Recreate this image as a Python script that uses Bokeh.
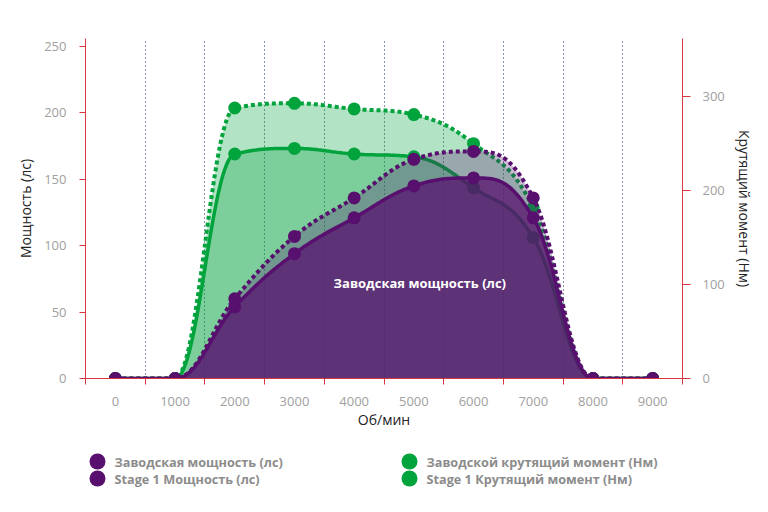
from bokeh.plotting import figure
from bokeh.models import Range1d, LinearAxis, FixedTicker, Label
from bokeh.core.properties import value
from bokeh.layouts import column
from bokeh.embed import file_html
from bokeh.resources import INLINE

# ---- data ----
rpm = [0, 1000, 2000, 3000, 4000, 5000, 6000, 7000, 8000, 9000]
power_factory = [0, 0, 54, 94, 121, 145, 151, 121, 0, 0]
power_stage1 = [0, 0, 60, 107, 136, 165, 171, 136, 0, 0]
torque_factory = [0, 0, 239, 245, 239, 236, 203, 150, 0, 0]
torque_stage1 = [0, 0, 288, 293, 287, 281, 250, 182, 0, 0]

rpm_ticks = [0, 1000, 2000, 3000, 4000, 5000, 6000, 7000, 8000, 9000]
power_ticks = [0, 50, 100, 150, 200, 250]
torque_ticks = [0, 100, 200, 300]

names = ["Заводская мощность (лс)", "Stage 1 Мощность (лс)",
         "Заводской крутящий момент (Нм)", "Stage 1 Крутящий момент (Нм)"]
x_title = "Об/мин"
left_title = "Мощность (лс)"
right_title = "Крутящий момент (Нм)"
data_label = "Заводская мощность (лс)"

PURPLE = "#58106e"
GREEN = "#00a33c"
RED = "#d9363e"
FONT = "Open Sans"

FRAME_L, FRAME_R = 85, 682  # layout: plot frame edges in px


def spline(xs, ys, steps=40):
    """Highcharts-style spline path through the points."""
    n = len(xs)
    lc, rc = [None] * n, [None] * n
    for i in range(n):
        x, y = xs[i], ys[i]
        if 0 < i < n - 1:
            lx, ly, nx, ny = xs[i - 1], ys[i - 1], xs[i + 1], ys[i + 1]
            s, d = 1.5, 2.5
            lcx, lcy = (s * x + lx) / d, (s * y + ly) / d
            rcx, rcy = (s * x + nx) / d, (s * y + ny) / d
            if rcx != lcx:
                corr = ((rcy - lcy) * (rcx - x)) / (rcx - lcx) + y - rcy
                lcy += corr
                rcy += corr
            if lcy > ly and lcy > y:
                lcy = max(ly, y); rcy = 2 * y - lcy
            elif lcy < ly and lcy < y:
                lcy = min(ly, y); rcy = 2 * y - lcy
            if rcy > ny and rcy > y:
                rcy = max(ny, y); lcy = 2 * y - rcy
            elif rcy < ny and rcy < y:
                rcy = min(ny, y); lcy = 2 * y - rcy
            lc[i], rc[i] = (lcx, lcy), (rcx, rcy)
        else:
            lc[i] = rc[i] = (x, y)
    px, py = [xs[0]], [ys[0]]
    for i in range(1, n):
        p0 = (xs[i - 1], ys[i - 1]); c1 = rc[i - 1]; c2 = lc[i]; p3 = (xs[i], ys[i])
        for k in range(1, steps + 1):
            t = k / steps; u = 1 - t
            px.append(u**3 * p0[0] + 3 * u * u * t * c1[0] + 3 * u * t * t * c2[0] + t**3 * p3[0])
            py.append(u**3 * p0[1] + 3 * u * u * t * c1[1] + 3 * u * t * t * c2[1] + t**3 * p3[1])
    return px, py


p = figure(width=768, height=440, output_backend="svg", toolbar_location=None,
           x_range=Range1d(-500, 9500), y_range=Range1d(0, 256),
           min_border_left=FRAME_L, min_border_right=768 - FRAME_R, min_border_top=38, min_border_bottom=62)
p.extra_y_ranges = {"torque": Range1d(0, 362)}
p.outline_line_color = None
p.background_fill_color = "white"
p.border_fill_color = "white"

# grid
p.ygrid.visible = False
p.xgrid.ticker = FixedTicker(ticks=[r + 500 for r in rpm_ticks[:-1]])
p.xgrid.grid_line_color = "#0b2a4a"
p.xgrid.grid_line_dash = "1 3"
p.xgrid.grid_line_width = 1

# x axis
xa = p.xaxis[0]
xa.ticker = FixedTicker(ticks=rpm_ticks, minor_ticks=[r - 500 for r in rpm_ticks] + [rpm_ticks[-1] + 500])
xa.major_tick_line_color = None
xa.major_tick_out = 0
xa.major_tick_in = 0
xa.minor_tick_line_color = RED
xa.minor_tick_out = 6
xa.minor_tick_in = 0
xa.axis_line_color = RED
xa.major_label_standoff = 12
xa.major_label_text_color = "#a0a0a0"
xa.major_label_text_font = FONT
xa.major_label_text_font_size = "13px"
xa.axis_label = x_title
xa.axis_label_standoff = 1
xa.axis_label_text_font = FONT
xa.axis_label_text_font_size = "14px"
xa.axis_label_text_font_style = "normal"
xa.axis_label_text_color = "#222222"

# left axis
ya = p.yaxis[0]
ya.ticker = FixedTicker(ticks=power_ticks)
ya.major_tick_line_color = RED
ya.major_tick_out = 6
ya.major_tick_in = 0
ya.minor_tick_line_color = None
ya.axis_line_color = RED
ya.major_label_standoff = 13
ya.major_label_text_color = "#a0a0a0"
ya.major_label_text_font = FONT
ya.major_label_text_font_size = "13px"
ya.axis_label = left_title
ya.axis_label_standoff = 6
ya.axis_label_text_font = FONT
ya.axis_label_text_font_size = "14px"
ya.axis_label_text_font_style = "normal"
ya.axis_label_text_color = "#222222"

# right axis
ra = LinearAxis(y_range_name="torque", ticker=FixedTicker(ticks=torque_ticks))
ra.major_tick_line_color = RED
ra.major_tick_out = 8
ra.major_tick_in = 0
ra.minor_tick_line_color = None
ra.axis_line_color = RED
ra.major_label_standoff = 12
ra.major_label_text_color = "#a0a0a0"
ra.major_label_text_font = FONT
ra.major_label_text_font_size = "13px"
ra.axis_label = right_title
ra.axis_label_standoff = 7
ra.axis_label_text_font = FONT
ra.axis_label_text_font_size = "14px"
ra.axis_label_text_font_style = "normal"
ra.axis_label_text_color = "#222222"
p.add_layout(ra, "right")

# ---- torque series (drawn first) ----
tsx, tsy = spline(rpm, torque_stage1)
tfx, tfy = spline(rpm, torque_factory)
p.varea(x=tsx, y1=0, y2=tsy, fill_color=GREEN, fill_alpha=0.3, y_range_name="torque")
p.varea(x=tfx, y1=0, y2=tfy, fill_color=GREEN, fill_alpha=0.3, y_range_name="torque")
p.line(tsx, tsy, line_color=GREEN, line_width=4, line_dash="4 3", y_range_name="torque")
p.line(tfx, tfy, line_color=GREEN, line_width=3.5, y_range_name="torque")
p.scatter(rpm, torque_stage1, size=13, fill_color=GREEN, line_color=None, y_range_name="torque")
p.scatter(rpm, torque_factory, size=13, fill_color=GREEN, line_color=None, y_range_name="torque")

# ---- power series ----
psx, psy = spline(rpm, power_stage1)
pfx, pfy = spline(rpm, power_factory)
p.varea(x=psx, y1=0, y2=psy, fill_color=PURPLE, fill_alpha=0.28)
p.varea(x=pfx, y1=0, y2=pfy, fill_color=PURPLE, fill_alpha=0.75)
p.line(psx, psy, line_color=PURPLE, line_width=4, line_dash="4 3")
p.line(pfx, pfy, line_color=PURPLE, line_width=3.5)
p.scatter(rpm, power_stage1, size=13, fill_color=PURPLE, line_color=None)
p.scatter(rpm, power_factory, size=13, fill_color=PURPLE, line_color=None)

p.add_layout(Label(x=5100, y=72, text=data_label, text_color="white", text_font=FONT,
                   text_font_style="bold", text_font_size="13px",
                   text_align="center", text_baseline="middle"))

# ---- legend strip (separate figure; its frame is aligned with the main frame) ----
lf = figure(width=768, height=72, output_backend="svg", toolbar_location=None,
            x_range=Range1d(FRAME_L, FRAME_R), y_range=Range1d(72, 0),
            x_axis_location=None, y_axis_location=None,
            min_border_left=FRAME_L, min_border_right=768 - FRAME_R,
            min_border_top=0, min_border_bottom=0)
lf.outline_line_color = None
lf.xgrid.visible = False
lf.ygrid.visible = False
lf.background_fill_color = "white"

leg_colors = [PURPLE, PURPLE, GREEN, GREEN]
leg_col_x = [97, 97, 409, 409]      # layout: marker column positions (px)
leg_row_y = [21, 38, 21, 38]        # layout: row positions (px)
lf.scatter(x=leg_col_x, y=leg_row_y, size=16, fill_color=leg_colors, line_color=None)
lf.text(x=[c + 17 for c in leg_col_x], y=leg_row_y, text=names,
        text_color="#8c8c8c", text_font=value(FONT), text_font_style="bold",
        text_font_size="12.7px", text_align="left", text_baseline="middle")

layout = column(p, lf, spacing=0)
open("out.html", "w").write(file_html(layout, INLINE))
